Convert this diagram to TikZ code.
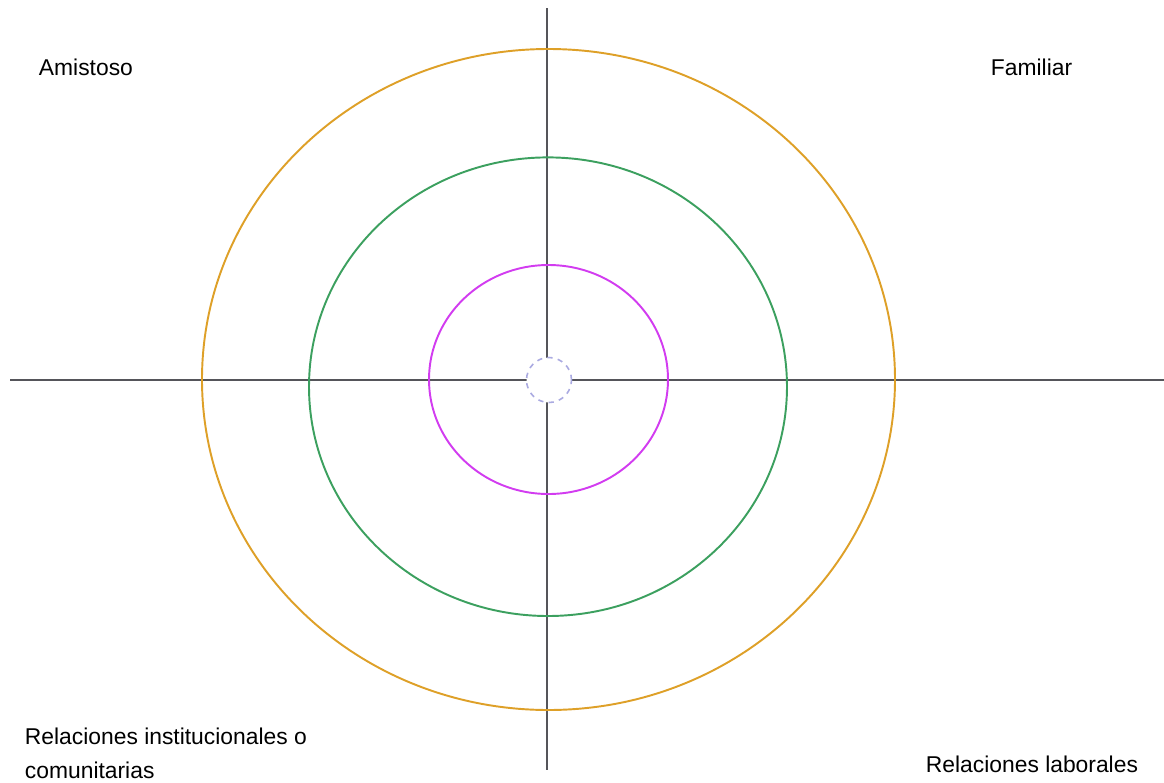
\documentclass[tikz,border=0pt]{standalone}
\usepackage{fontspec}
\setmainfont{Liberation Sans}
\usepackage{xcolor}
\usepackage{tikz}
\usetikzlibrary{positioning}
\definecolor{ejegris}{RGB}{85, 85, 90}
\definecolor{anillonaranja}{RGB}{222, 160, 40}
\definecolor{anilloverde}{RGB}{60, 160, 95}
\definecolor{anillomagenta}{RGB}{210, 60, 240}
\definecolor{centrolila}{RGB}{170, 170, 225}

\begin{document}
\begin{tikzpicture}[x=0.02cm, y=-0.02cm, line width=1.1pt]
    \useasboundingbox (0,0) rectangle (1164,782);
    % Ejes del plano
    \coordinate (izq) at (10,380);
    \coordinate (der) at (1164,380);
    \coordinate (arr) at (547,8);
    \coordinate (aba) at (547,770);
    \draw[ejegris] (izq) -- (der);
    \draw[ejegris] (arr) -- (aba);

    % Anillos concentricos
    \draw[anillonaranja] (548.5,379.5) ellipse [x radius=346.5, y radius=330.5];
    \draw[anilloverde] (548,386.7) ellipse [x radius=239, y radius=229.3];
    \draw[anillomagenta] (548.5,379.5) ellipse [x radius=119.5, y radius=114.5];

    % Centro punteado
    \node[draw=centrolila, fill=white, dashed, line width=0.9pt, circle, minimum size=0.9cm] (yo) at (549,380) {};

    % Cuadrantes
    \node[anchor=base west, font=\fontsize{13}{16}\selectfont, inner sep=0pt] (ami) at (38,75) {Amistoso};
    \node[anchor=base west, font=\fontsize{13}{16}\selectfont, inner sep=0pt] (fam) at (990,75) {Familiar};
    \node[anchor=base west, font=\fontsize{13}{19}\selectfont, inner sep=0pt, align=left] (ins) at (24,778) {Relaciones institucionales o\\comunitarias};
    \node[anchor=base west, font=\fontsize{13}{16}\selectfont, inner sep=0pt] (lab) at (925,772) {Relaciones laborales};
\end{tikzpicture}
\end{document}
